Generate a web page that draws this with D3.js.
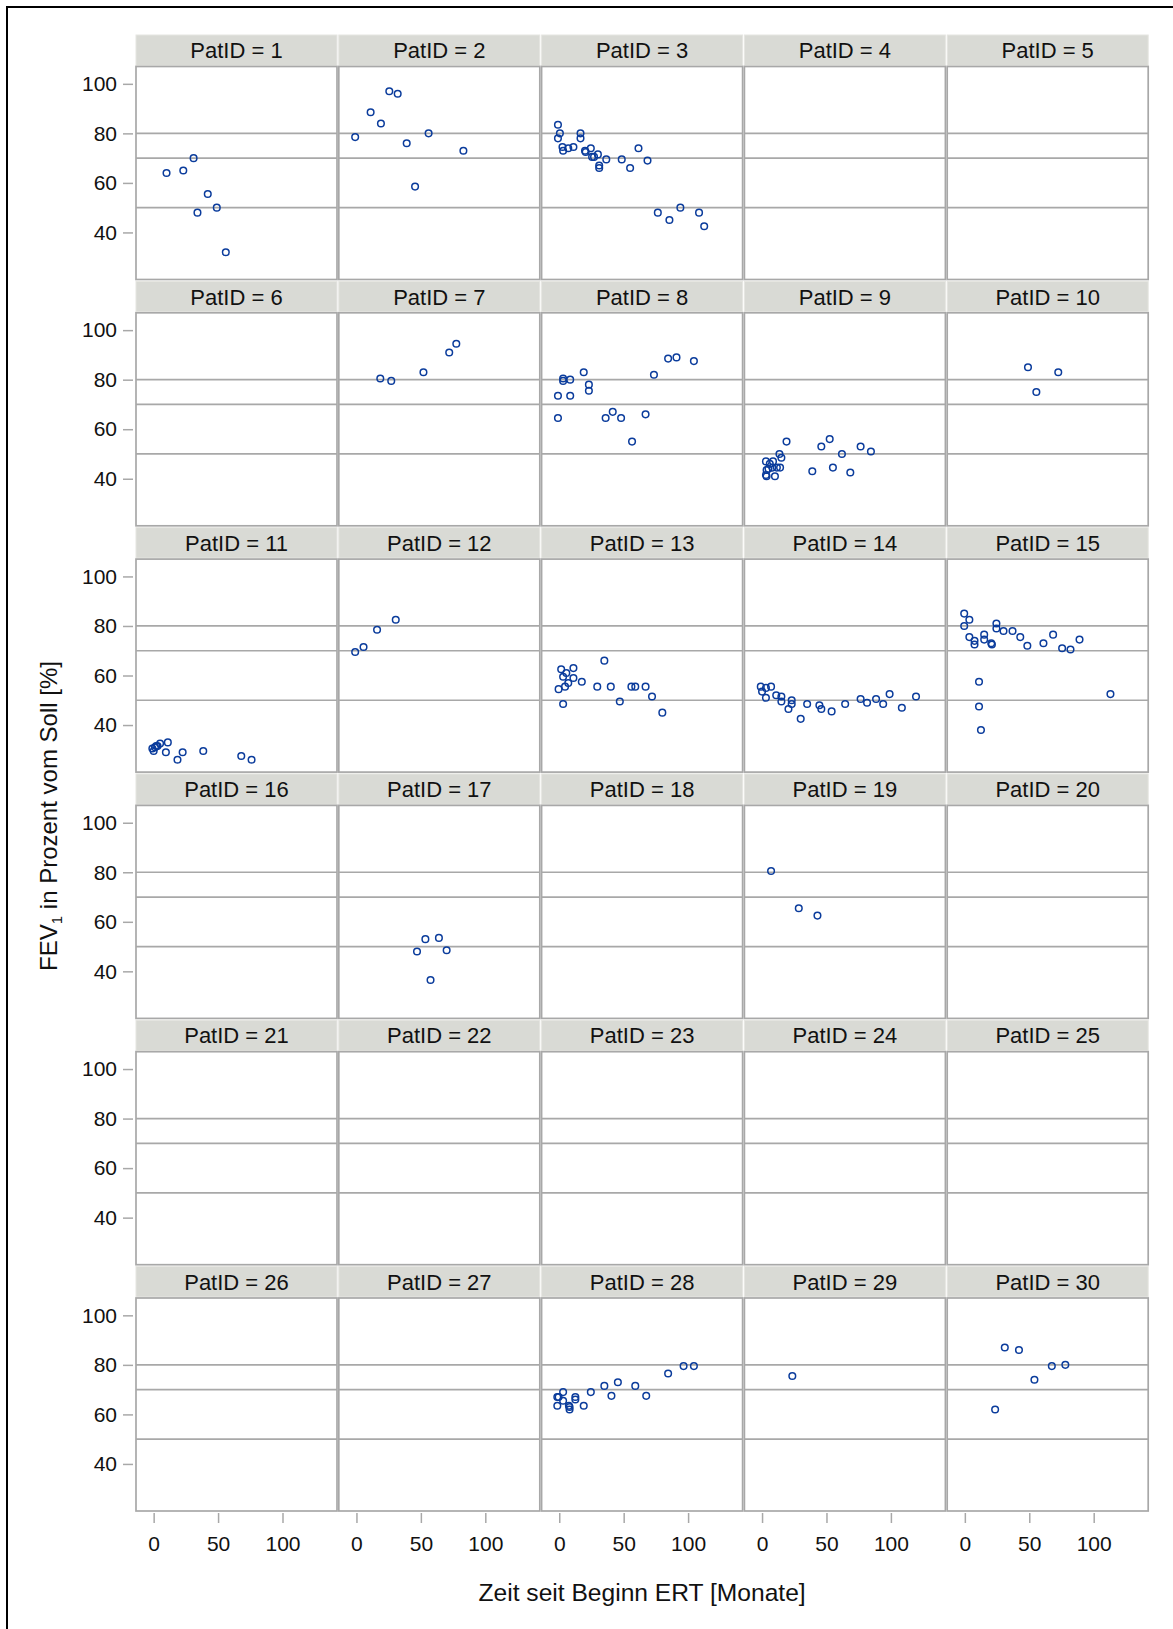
<!DOCTYPE html>
<html>
<head>
  <meta charset="utf-8">
  <script src="https://cdnjs.cloudflare.com/ajax/libs/d3/7.8.5/d3.min.js"></script>
  <style>
    body { margin: 0; background: #fff; }
    text { font-family: "Liberation Sans", Arial, sans-serif; }
  </style>
</head>
<body>
  <svg></svg>

  <script>
    // panel ids, 5 per row
    var patIds = [1, 2, 3, 4, 5, 6, 7, 8, 9, 10, 11, 12, 13, 14, 15,
                  16, 17, 18, 19, 20, 21, 22, 23, 24, 25, 26, 27, 28, 29, 30];

    var yTicks = [40, 60, 80, 100];
    var xTicks = [0, 50, 100];
    var refLines = [80, 70, 50];

    // months since start of ERT / FEV1 % predicted, per patient
    var p1Months = [10, 23, 31, 34, 42, 49, 56];
    var p1Fev = [64, 65, 70, 48, 55.5, 50, 32];

    var p2Months = [-1, 11, 19, 25.5, 32, 39, 45.5, 56, 83];
    var p2Fev = [78.5, 88.5, 84, 97, 96, 76, 58.5, 80, 73];

    var p3Months = [-1, 0.5, -1, 2.5, 3, 7, 11, 16.5, 16.5, 20, 20.5, 24.5, 25.5, 27, 30, 31, 31, 36.5, 48.5, 55, 61.5, 68.5, 76.5, 85.5, 94, 108.5, 112.5];
    var p3Fev = [83.5, 80, 78, 74.5, 73, 74, 74.5, 80, 78, 73, 72.5, 74, 70.5, 70.5, 71.5, 67, 66, 69.5, 69.5, 66, 74, 69, 48, 45, 50, 48, 42.5];

    var p7Months = [18.5, 27, 52, 72, 77.5];
    var p7Fev = [80.5, 79.5, 83, 91, 94.5];

    var p8Months = [-1, -1, 3, 3, 8.5, 8.5, 19, 23, 23, 36, 41.5, 48, 56.5, 67, 73.5, 84.5, 91, 104.5];
    var p8Fev = [64.5, 73.5, 80.5, 79.5, 80, 73.5, 83, 78, 75.5, 64.5, 67, 64.5, 55, 66, 82, 88.5, 89, 87.5];

    var p9Months = [3, 3, 3.5, 3.5, 5, 6, 8.5, 8, 10, 11.5, 14, 13.5, 15, 19, 39, 46, 52.5, 55, 62, 68.5, 76.5, 84.5];
    var p9Fev = [47, 41.5, 41, 43.5, 44, 46, 47, 44.5, 41, 44.5, 44.5, 50, 48.5, 55, 43, 53, 56, 44.5, 50, 42.5, 53, 51];

    var p10Months = [49, 55.5, 72.5];
    var p10Fev = [85, 75, 83];

    var p11Months = [-1, 0, 1, 2, 3, 5, 11, 9.5, 18.5, 22.5, 38.5, 68, 76];
    var p11Fev = [30.5, 29.5, 31, 31.5, 31.5, 32.5, 33, 29, 26, 29, 29.5, 27.5, 26];

    var p12Months = [-1, 5.5, 16, 30.5];
    var p12Fev = [69.5, 71.5, 78.5, 82.5];

    var p13Months = [1.5, -0.5, 3, 3, 4.5, 5.5, 7, 11, 11, 17.5, 29.5, 35, 40, 47, 56, 59, 67, 72, 80];
    var p13Fev = [62.5, 54.5, 59.5, 48.5, 55.5, 61, 57, 59, 63, 57.5, 55.5, 66, 55.5, 49.5, 55.5, 55.5, 55.5, 51.5, 45];

    var p14Months = [-1, 0, 3, 7, 3, 11, 15, 15, 23, 23, 20.5, 30, 35, 44.5, 46, 54, 64.5, 76.5, 81.5, 88.5, 94, 99, 108.5, 119.5];
    var p14Fev = [55.5, 53.5, 55, 55.5, 51, 52, 51.5, 49.5, 50, 48.5, 46.5, 42.5, 48.5, 48, 46.5, 45.5, 48.5, 50.5, 49, 50.5, 48.5, 52.5, 47, 51.5];

    var p15Months = [-0.5, 3.5, -0.5, 3.5, 7.5, 7.5, 15, 15, 20.5, 21, 24.5, 24.5, 30, 37, 43, 48.5, 61, 68.5, 75.5, 82, 89, 11, 11, 12.5, 113];
    var p15Fev = [85, 82.5, 80, 75.5, 74, 72.5, 76.5, 74.5, 73, 72.5, 81, 79, 78, 78, 75.5, 72, 73, 76.5, 71, 70.5, 74.5, 57.5, 47.5, 38, 52.5];

    var p17Months = [47, 53.5, 64, 70, 57.5];
    var p17Fev = [48, 53, 53.5, 48.5, 36.5];

    var p19Months = [7, 28.5, 43];
    var p19Fev = [80.5, 65.5, 62.5];

    var p28Months = [-1.5, -0.5, -1.5, 3, 3, 7.5, 8, 8, 12.5, 12.5, 19, 24.5, 35, 40.5, 45.5, 59, 67.5, 84.5, 96.5, 104.5];
    var p28Fev = [67, 67, 63.5, 69, 65.5, 63.5, 62, 63, 67, 66, 63.5, 69, 71.5, 67.5, 73, 71.5, 67.5, 76.5, 79.5, 79.5];

    var p29Months = [23.5];
    var p29Fev = [75.5];

    var p30Months = [23.5, 31, 42, 54, 67.5, 78];
    var p30Fev = [62, 87, 86, 74, 79.5, 80];

    var series = {
      1: [p1Months, p1Fev], 2: [p2Months, p2Fev], 3: [p3Months, p3Fev],
      7: [p7Months, p7Fev], 8: [p8Months, p8Fev], 9: [p9Months, p9Fev],
      10: [p10Months, p10Fev], 11: [p11Months, p11Fev], 12: [p12Months, p12Fev],
      13: [p13Months, p13Fev], 14: [p14Months, p14Fev], 15: [p15Months, p15Fev],
      17: [p17Months, p17Fev], 19: [p19Months, p19Fev], 28: [p28Months, p28Fev],
      29: [p29Months, p29Fev], 30: [p30Months, p30Fev]
    };

    var W = 1173, H = 1629;
    var gridLeft = 136, colPitch = 202.8, panelW = 201;
    var gridTop = 35, rowPitch = 246.3, stripH = 30.5, panelH = 213;
    var nCols = 5, nRows = 6;
    var gray = "#a8a8a8", blue = "#0b3c9c";

    var svg = d3.select("svg").attr("width", W).attr("height", H);

    // frame round the whole graph
    svg.append("rect")
      .attr("x", 7).attr("y", 7)
      .attr("width", W + 10).attr("height", H + 10)
      .attr("fill", "none").attr("stroke", "#000").attr("stroke-width", 2);

    var x = d3.scaleLinear().domain([-13.7, 142.3]).range([0, panelW]);
    var y = d3.scaleLinear().domain([21, 107]).range([panelH, 0]);

    patIds.forEach(function(id, i) {
      var col = i % nCols, row = Math.floor(i / nCols);
      var left = gridLeft + col * colPitch;
      var top = gridTop + row * rowPitch;
      var g = svg.append("g").attr("transform", "translate(" + left + "," + top + ")");

      // strip header
      g.append("rect")
        .attr("x", 0).attr("y", 0).attr("width", panelW).attr("height", stripH)
        .attr("fill", "#d9dad5").attr("stroke", "#e6e6e2").attr("stroke-width", 1);
      g.append("text")
        .attr("x", panelW / 2).attr("y", stripH / 2 + 8)
        .attr("text-anchor", "middle")
        .attr("font-size", 22)
        .attr("fill", "#111")
        .text("PatID = " + id);

      var p = g.append("g").attr("transform", "translate(0," + (stripH + 1) + ")");

      p.append("rect")
        .attr("width", panelW).attr("height", panelH)
        .attr("fill", "#fff");

      p.selectAll("line.ref").data(refLines).enter()
        .append("line")
        .attr("x1", 0).attr("x2", panelW)
        .attr("y1", function(d) { return y(d); })
        .attr("y2", function(d) { return y(d); })
        .attr("stroke", gray).attr("stroke-width", 1.7);

      p.append("rect")
        .attr("width", panelW).attr("height", panelH)
        .attr("fill", "none").attr("stroke", gray).attr("stroke-width", 1.7);

      var s = series[id];
      if (s) {
        var pts = s[0].map(function(m, k) { return [m, s[1][k]]; });
        p.selectAll("circle").data(pts).enter()
          .append("circle")
          .attr("cx", function(d) { return x(d[0]); })
          .attr("cy", function(d) { return y(d[1]); })
          .attr("r", 3.3)
          .attr("fill", "none")
          .attr("stroke", blue)
          .attr("stroke-width", 1.5);
      }

      // y axis on first column
      if (col === 0) {
        var ya = p.append("g")
          .attr("transform", "translate(-3,0)")
          .call(d3.axisLeft(y).tickValues(yTicks).tickSize(10).tickPadding(6));
        ya.select(".domain").remove();
        ya.selectAll("line").attr("stroke", gray).attr("stroke-width", 1.5);
        ya.selectAll("text").attr("font-size", 21).attr("fill", "#111")
          .style("font-family", "'Liberation Sans', Arial, sans-serif");
      }

      // x axis on last row
      if (row === nRows - 1) {
        var xa = p.append("g")
          .attr("transform", "translate(0," + (panelH + 2) + ")")
          .call(d3.axisBottom(x).tickValues(xTicks).tickSize(10).tickPadding(13));
        xa.select(".domain").remove();
        xa.selectAll("line").attr("stroke", gray).attr("stroke-width", 1.5);
        xa.selectAll("text").attr("font-size", 21).attr("fill", "#111")
          .style("font-family", "'Liberation Sans', Arial, sans-serif");
      }
    });

    // axis titles
    var gridCenterX = gridLeft + ((nCols - 1) * colPitch + panelW) / 2;
    svg.append("text")
      .attr("x", gridCenterX).attr("y", 1601)
      .attr("text-anchor", "middle")
      .attr("font-size", 24.6)
      .attr("fill", "#111")
      .text("Zeit seit Beginn ERT [Monate]");

    var yt = svg.append("text")
      .attr("transform", "translate(57,816) rotate(-90)")
      .attr("text-anchor", "middle")
      .attr("font-size", 24)
      .attr("fill", "#111");
    yt.append("tspan").text("FEV");
    yt.append("tspan").attr("font-size", 15).attr("dy", 5).text("1");
    yt.append("tspan").attr("dy", -5).text(" in Prozent vom Soll [%]");
  </script>
</body>
</html>
